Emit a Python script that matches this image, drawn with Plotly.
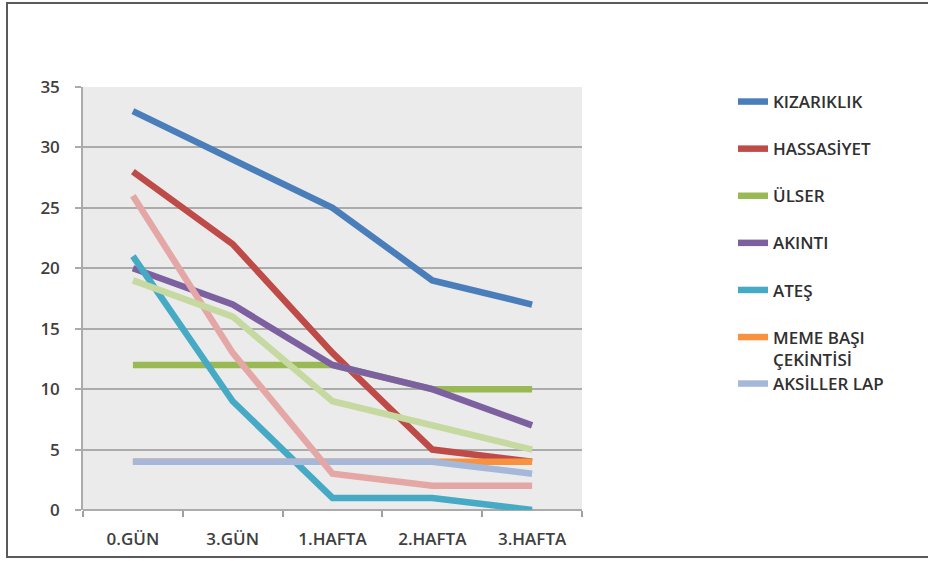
import plotly.graph_objects as go

categories = ["0.GÜN", "3.GÜN", "1.HAFTA", "2.HAFTA", "3.HAFTA"]

kizariklik = [33, 29, 25, 19, 17]
hassasiyet = [28, 22, 13, 5, 4]
ulser = [12, 12, 12, 10, 10]
akinti = [20, 17, 12, 10, 7]
ates = [21, 9, 1, 1, 0]
meme_basi = [4, 4, 4, 4, 4]
aksiller_lap = [4, 4, 4, 4, 3]
seri_8 = [26, 13, 3, 2, 2]
seri_9 = [19, 16, 9, 7, 5]

series_names = ["KIZARIKLIK", "HASSASİYET", "ÜLSER", "AKINTI", "ATEŞ",
                "MEME BAŞI<br>ÇEKİNTİSİ", "AKSİLLER LAP", "Seri 8", "Seri 9"]
series_values = [kizariklik, hassasiyet, ulser, akinti, ates,
                 meme_basi, aksiller_lap, seri_8, seri_9]
series_colors = ["#4A7EBB", "#BE4B48", "#98B954", "#7D60A0", "#46AAC5",
                 "#F69240", "#A5B8DA", "#E4A7A5", "#C6D9A0"]
in_legend = [True, True, True, True, True, True, True, False, False]
legend_ref = ["legend"] * 6 + ["legend2", "legend", "legend"]

fig = go.Figure()
for i, (name, vals, col, leg, lref) in enumerate(
        zip(series_names, series_values, series_colors, in_legend, legend_ref)):
    fig.add_trace(go.Scatter(
        x=categories, y=vals, name=name, mode="lines",
        line=dict(color=col, width=6.5),
        showlegend=leg, legendgroup=f"g{i}", legend=lref,
    ))

font_family = "Open Sans, Liberation Sans, sans-serif"
L, R, T, B = 83, 346, 87, 51
pw, ph = 928 - L - R, 561 - T - B

def px_x(x):
    return (x - L) / pw

def px_y(y):
    return (561 - B - y) / ph

legend_font = dict(size=17, color="#303030", family=font_family, weight=600)

fig.update_layout(
    width=928, height=561, autosize=False,
    margin=dict(l=L, r=R, t=T, b=B),
    paper_bgcolor="white",
    plot_bgcolor="#EBEBEB",
    font=dict(family=font_family, size=17, color="#404040", weight=600),
    xaxis=dict(
        type="category", range=[-0.5, 4.5],
        showgrid=False, zeroline=False, showline=False,
        ticks="outside", tickson="boundaries", ticklen=6,
        tickcolor="#A0A0A0", tickwidth=1.5,
        ticklabelstandoff=17,
        tickfont=dict(size=17, color="#404040", family=font_family, weight=600),
    ),
    yaxis=dict(
        range=[0, 35], dtick=5, tick0=0,
        showgrid=True, gridcolor="#ABABAB", gridwidth=1.5,
        zeroline=True, zerolinecolor="#ABABAB", zerolinewidth=1.5,
        showline=True, linecolor="#ABABAB", linewidth=1.5,
        ticks="outside", ticklen=6, tickcolor="#ABABAB", tickwidth=1.5,
        ticklabelstandoff=12,
        tickfont=dict(size=17, color="#404040", family=font_family, weight=600),
    ),
    legend=dict(
        x=px_x(733), y=px_y(84), xanchor="left", yanchor="top",
        traceorder="grouped", tracegroupgap=22, valign="top",
        font=legend_font, maxheight=400,
        bgcolor="rgba(0,0,0,0)", itemwidth=30,
    ),
    legend2=dict(
        x=px_x(733), y=px_y(366), xanchor="left", yanchor="top",
        font=legend_font,
        bgcolor="rgba(0,0,0,0)", itemwidth=30,
    ),
    shapes=[dict(
        type="rect", xref="paper", yref="paper",
        x0=px_x(7), x1=px_x(940), y0=px_y(557), y1=px_y(3),
        line=dict(color="#5A5A5A", width=2), fillcolor="rgba(0,0,0,0)",
        layer="below",
    )],
)

fig.write_html("out.html", config={"displayModeBar": False},
               post_script="document.body.style.margin='0';")
